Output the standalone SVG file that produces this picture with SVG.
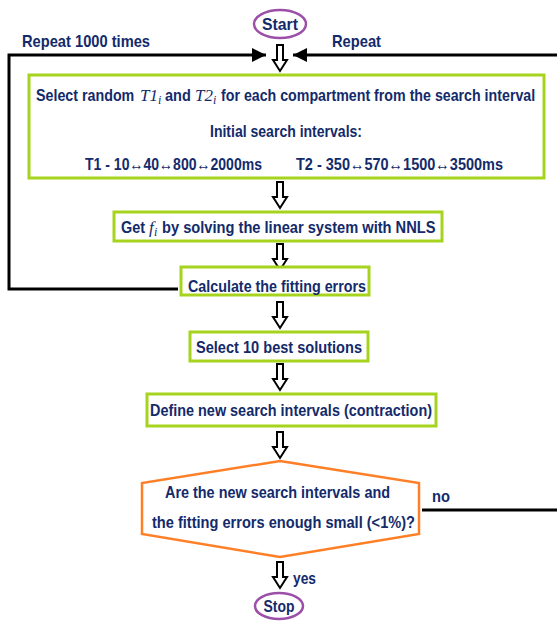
<svg xmlns="http://www.w3.org/2000/svg" width="557" height="621" viewBox="0 0 557 621">
<style>
.t{font-family:"Liberation Sans",Arial,sans-serif;font-weight:bold;font-size:17px;fill:#132a6b}
.m{font-family:"Liberation Serif","Times New Roman",serif;font-style:italic;font-size:17px;fill:#132a6b}
.s{font-family:"Liberation Serif","Times New Roman",serif;font-style:italic;font-size:12px;fill:#132a6b}
.box{fill:#fff;stroke:#a6d41e;stroke-width:3}
.ell{fill:#fff;stroke:#9b4fa8;stroke-width:2.5}
.hex{fill:#fff;stroke:#ff7f27;stroke-width:2.5}
.ln{fill:none;stroke:#000;stroke-width:3}
.ha{fill:#fff;stroke:#000;stroke-width:2;stroke-linejoin:miter}
</style>
<defs>
<marker id="ah" markerUnits="userSpaceOnUse" markerWidth="16" markerHeight="16" refX="14" refY="8" orient="auto">
<path d="M0,1 L14,8 L0,15 z" fill="#000"/>
</marker>
<path id="down" d="M-3,0 h6 v15 h4 l-7,11 l-7,-11 h4 z"/>
</defs>
<rect width="557" height="621" fill="#fff"/>
<g id="connectors">
<path class="ln" d="M178,289 H9 V55 H266" marker-end="url(#ah)"/>
<path class="ln" d="M422,510 H562 V55 H293" marker-end="url(#ah)"/>
<use href="#down" class="ha" x="280" y="45"/>
<use href="#down" class="ha" x="280" y="182"/>
<use href="#down" class="ha" x="280" y="244"/>
<use href="#down" class="ha" x="280" y="302"/>
<use href="#down" class="ha" x="280" y="364"/>
<use href="#down" class="ha" x="280" y="432"/>
<use href="#down" class="ha" x="280" y="562"/>
<text class="t" x="22" y="47" textLength="128" lengthAdjust="spacingAndGlyphs">Repeat 1000 times</text>
<text class="t" x="332" y="47" textLength="49" lengthAdjust="spacingAndGlyphs">Repeat</text>
<text class="t" x="432" y="502" textLength="18" lengthAdjust="spacingAndGlyphs">no</text>
<text class="t" x="293" y="584" textLength="23" lengthAdjust="spacingAndGlyphs">yes</text>
</g>
<g id="start">
<ellipse class="ell" cx="280" cy="24" rx="26" ry="14"/>
<text class="t" x="280" y="30" text-anchor="middle" textLength="36" lengthAdjust="spacingAndGlyphs">Start</text>
</g>
<g id="select-random">
<rect class="box" x="29" y="75" width="515" height="103"/>
<text class="t" transform="translate(36,101) scale(0.84,1)" textLength="117" lengthAdjust="spacingAndGlyphs">Select random</text>
<text class="m" x="140" y="101">T1</text>
<text class="s" x="158" y="104">i</text>
<text class="t" transform="translate(165,101) scale(0.86,1)" textLength="30" lengthAdjust="spacingAndGlyphs">and</text>
<text class="m" x="195" y="101">T2</text>
<text class="s" x="213" y="104">i</text>
<text class="t" transform="translate(221,101) scale(0.84,1)" textLength="374" lengthAdjust="spacingAndGlyphs">for each compartment from the search interval</text>
<text class="t" x="210" y="137" textLength="152" lengthAdjust="spacingAndGlyphs">Initial search intervals:</text>
<text class="t" x="85" y="170" textLength="177" lengthAdjust="spacingAndGlyphs">T1 - 10↔40↔800↔2000ms</text>
<text class="t" x="296" y="170" textLength="207" lengthAdjust="spacingAndGlyphs">T2 - 350↔570↔1500↔3500ms</text>
</g>
<g id="get-f">
<rect class="box" x="114" y="212" width="328" height="29"/>
<text class="t" transform="translate(121,233) scale(0.86,1)" textLength="28" lengthAdjust="spacingAndGlyphs">Get</text>
<text class="m" x="149" y="233">f</text>
<text class="s" x="154" y="236">i</text>
<text class="t" transform="translate(162,233) scale(0.86,1)" textLength="318" lengthAdjust="spacingAndGlyphs">by solving the linear system with NNLS</text>
</g>
<g id="calculate">
<rect class="box" x="181" y="267" width="188" height="28"/>
<text class="t" x="188" y="292" textLength="178" lengthAdjust="spacingAndGlyphs">Calculate the fitting errors</text>
</g>
<g id="select-best">
<rect class="box" x="190" y="332" width="178" height="29"/>
<text class="t" x="196" y="353" textLength="166" lengthAdjust="spacingAndGlyphs">Select 10 best solutions</text>
</g>
<g id="define">
<rect class="box" x="147" y="394" width="289" height="32"/>
<text class="t" x="150" y="416" textLength="282" lengthAdjust="spacingAndGlyphs">Define new search intervals (contraction)</text>
</g>
<g id="decision">
<path class="hex" d="M280,461 L419,483 L419,534 L280,557 L142,534 L142,483 z"/>
<text class="t" x="165" y="498" textLength="225" lengthAdjust="spacingAndGlyphs">Are the new search intervals and</text>
<text class="t" x="152" y="528" textLength="263" lengthAdjust="spacingAndGlyphs">the fitting errors enough small (&lt;1%)?</text>
</g>
<g id="stop">
<ellipse class="ell" cx="279" cy="606" rx="24" ry="13"/>
<text class="t" x="279" y="612" text-anchor="middle" textLength="31" lengthAdjust="spacingAndGlyphs">Stop</text>
</g>
</svg>
